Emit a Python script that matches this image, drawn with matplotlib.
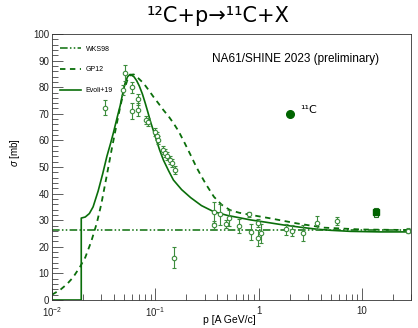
import numpy as np
import matplotlib
matplotlib.use("Agg")
import matplotlib.pyplot as plt
from matplotlib.ticker import FixedLocator, NullFormatter, MultipleLocator

plt.rcParams["font.family"] = ["Liberation Sans", "DejaVu Sans"]
plt.rcParams["mathtext.fontset"] = "custom"
plt.rcParams["mathtext.rm"] = "Liberation Sans"
plt.rcParams["mathtext.it"] = "Liberation Sans:italic"

# open data points (p [A GeV/c], sigma [mb], error)
data_p = [0.0327, 0.049, 0.051, 0.060, 0.060, 0.068, 0.068, 0.082, 0.086, 0.099,
          0.103, 0.107, 0.120, 0.125, 0.130, 0.140, 0.145, 0.154, 0.1507,
          0.368, 0.368, 0.421, 0.489, 0.519, 0.65, 0.805, 0.84, 0.985, 0.985,
          1.06, 1.86, 2.12, 2.72, 3.66, 5.72, 28.2]
data_s = [72.3, 79.0, 85.2, 80.0, 71.0, 75.4, 71.6, 67.8, 67.0, 63.3,
          61.6, 60.3, 56.4, 55.2, 54.1, 52.8, 51.4, 49.0, 15.9,
          33.0, 28.2, 32.2, 28.4, 30.7, 27.8, 32.2, 25.7, 29.1, 23.2,
          25.1, 26.6, 26.1, 25.1, 29.1, 29.7, 26.1]
data_e = [2.8, 2.0, 3.0, 2.0, 3.0, 2.0, 2.5, 1.5, 1.5, 1.5,
          1.5, 1.5, 1.5, 1.5, 1.5, 1.5, 1.5, 1.5, 3.9,
          4.0, 1.5, 4.0, 1.5, 3.0, 2.5, 1.0, 3.0, 1.5, 3.0,
          3.5, 2.0, 2.0, 3.0, 2.5, 1.5, 0.8]

# NA61/SHINE point
na61_p = [13.7]
na61_s = [33.0]
na61_e = [1.0]
na61_sys = [1.7]

# model curves
wks_p = [0.01, 30]
wks_s = [26.2, 26.2]

gp_p = [0.010, 0.012, 0.014, 0.016, 0.0187, 0.021, 0.024, 0.0272, 0.030, 0.034,
        0.038, 0.042, 0.046, 0.050, 0.054, 0.058, 0.062, 0.068, 0.077, 0.086,
        0.096, 0.108, 0.12, 0.135, 0.15, 0.168, 0.19, 0.22, 0.25, 0.27,
        0.31, 0.37, 0.44, 0.53, 0.65, 0.84, 1.3, 2.35, 4.3, 10, 30]
gp_s = [2.0, 3.8, 6.0, 8.5, 12.5, 16.0, 22.0, 29.0, 36.0, 47.0,
        57.0, 65.5, 73.0, 79.0, 83.0, 84.7, 84.8, 83.5, 81.5, 79.0,
        76.4, 73.8, 71.4, 69.0, 66.5, 63.5, 59.5, 54.5, 50.0, 47.6,
        43.5, 38.8, 35.8, 33.8, 32.8, 32.0, 30.7, 28.8, 27.2, 26.5, 26.3]

ev_p = [0.01, 0.0192, 0.0192, 0.021, 0.023, 0.025, 0.028, 0.031, 0.034, 0.037,
        0.0394, 0.043, 0.0457, 0.048, 0.051, 0.054, 0.057, 0.062, 0.066, 0.070,
        0.075, 0.080, 0.085, 0.090, 0.100, 0.110, 0.120, 0.135, 0.150, 0.180,
        0.220, 0.280, 0.368, 0.50, 0.84, 1.2, 1.75, 2.5, 3.7, 5.0,
        7.8, 15, 30]
ev_s = [0.0, 0.0, 30.8, 31.2, 32.5, 35.0, 41.0, 47.5, 54.0, 59.0,
        63.0, 69.0, 73.0, 77.0, 81.5, 84.0, 84.8, 84.0, 82.5, 80.5,
        77.5, 74.0, 70.5, 67.0, 61.5, 56.5, 52.6, 48.5, 45.1, 41.5,
        38.5, 35.5, 33.2, 31.8, 30.1, 29.2, 28.2, 27.4, 26.6, 26.2,
        25.8, 25.6, 25.6]

line_col = "#0a6e0a"
pt_col = "#3c8c3c"

fig = plt.figure(figsize=(4.18, 3.28), dpi=100)
ax = fig.add_axes([0.1244, 0.0854, 0.8589, 0.8109])

ax.plot(wks_p, wks_s, color=line_col, lw=1.1, ls=(0, (5, 1.5, 1, 1.5, 1, 1.5)), label="WKS98")
ax.plot(gp_p, gp_s, color=line_col, lw=1.3, ls=(0, (3, 2.5)), label="GP12")
ax.plot(ev_p, ev_s, color=line_col, lw=1.2, label="Evoli+19")

ax.errorbar(data_p, data_s, yerr=data_e, fmt="o", ms=3.2, mfc="white",
            mec=pt_col, mew=0.8, ecolor=pt_col, elinewidth=0.8, capsize=1.5,
            capthick=0.8, zorder=5)

# systematic box
for p, s, sy in zip(na61_p, na61_s, na61_sys):
    ax.add_patch(plt.Rectangle((p * 0.955, s - sy), p * 0.09, 2 * sy,
                               fill=False, ec="#1e6e1e", lw=0.8, zorder=6))
ax.errorbar(na61_p, na61_s, yerr=na61_e, fmt="s", ms=4, color="#006400",
            ecolor="#006400", elinewidth=0.8, zorder=7)

ax.set_xscale("log")
ax.set_xlim(0.01, 30)
ax.set_ylim(0, 100)

ax.xaxis.set_major_locator(FixedLocator([0.01, 0.1, 1, 10]))
ax.set_xticklabels([r"$10^{-2}$", r"$10^{-1}$", "1", "10"])
minors = [m * 10.0 ** d for d in range(-2, 2) for m in range(2, 10)]
ax.xaxis.set_minor_locator(FixedLocator(minors))
ax.xaxis.set_minor_formatter(NullFormatter())
ax.yaxis.set_major_locator(MultipleLocator(10))
ax.yaxis.set_minor_locator(MultipleLocator(2))

ax.tick_params(which="both", direction="in", labelsize=7, pad=2, width=0.6,
               color="#444444", labelcolor="#222222")
ax.tick_params(axis="x", pad=4)
ax.tick_params(which="major", length=8)
ax.tick_params(which="minor", length=4)
ax.tick_params(axis="x", which="major", length=9)
for sp in ax.spines.values():
    sp.set_linewidth(0.6)
    sp.set_color("#333333")

fig.text(0.035, 0.534, r"$\sigma$ [mb]", rotation=90, fontsize=7, ha="center", va="center")
fig.text(0.548, 0.024, "p [A GeV/c]", fontsize=7.5, ha="center", va="center")

fig.text(0.522, 0.95, "¹²C+p→¹¹C+X", fontsize=15, ha="center", va="center",
         family=["DejaVu Sans"])

ax.text(0.446, 0.905, "NA61/SHINE 2023 (preliminary)", transform=ax.transAxes,
        fontsize=8.5, ha="left", va="center")
ax.plot([0.662], [0.70], transform=ax.transAxes, marker="o", ms=5.5, color="#006400",
        clip_on=False)
ax.text(0.69, 0.715, "¹¹C", transform=ax.transAxes, fontsize=8, ha="left", va="center",
        family=["DejaVu Sans"])

leg = ax.legend(loc="upper left", bbox_to_anchor=(0.005, 0.98), frameon=False,
                fontsize=5, handlelength=3.0, labelspacing=2.0, handletextpad=0.7)

fig.savefig("out.png", dpi=100)
